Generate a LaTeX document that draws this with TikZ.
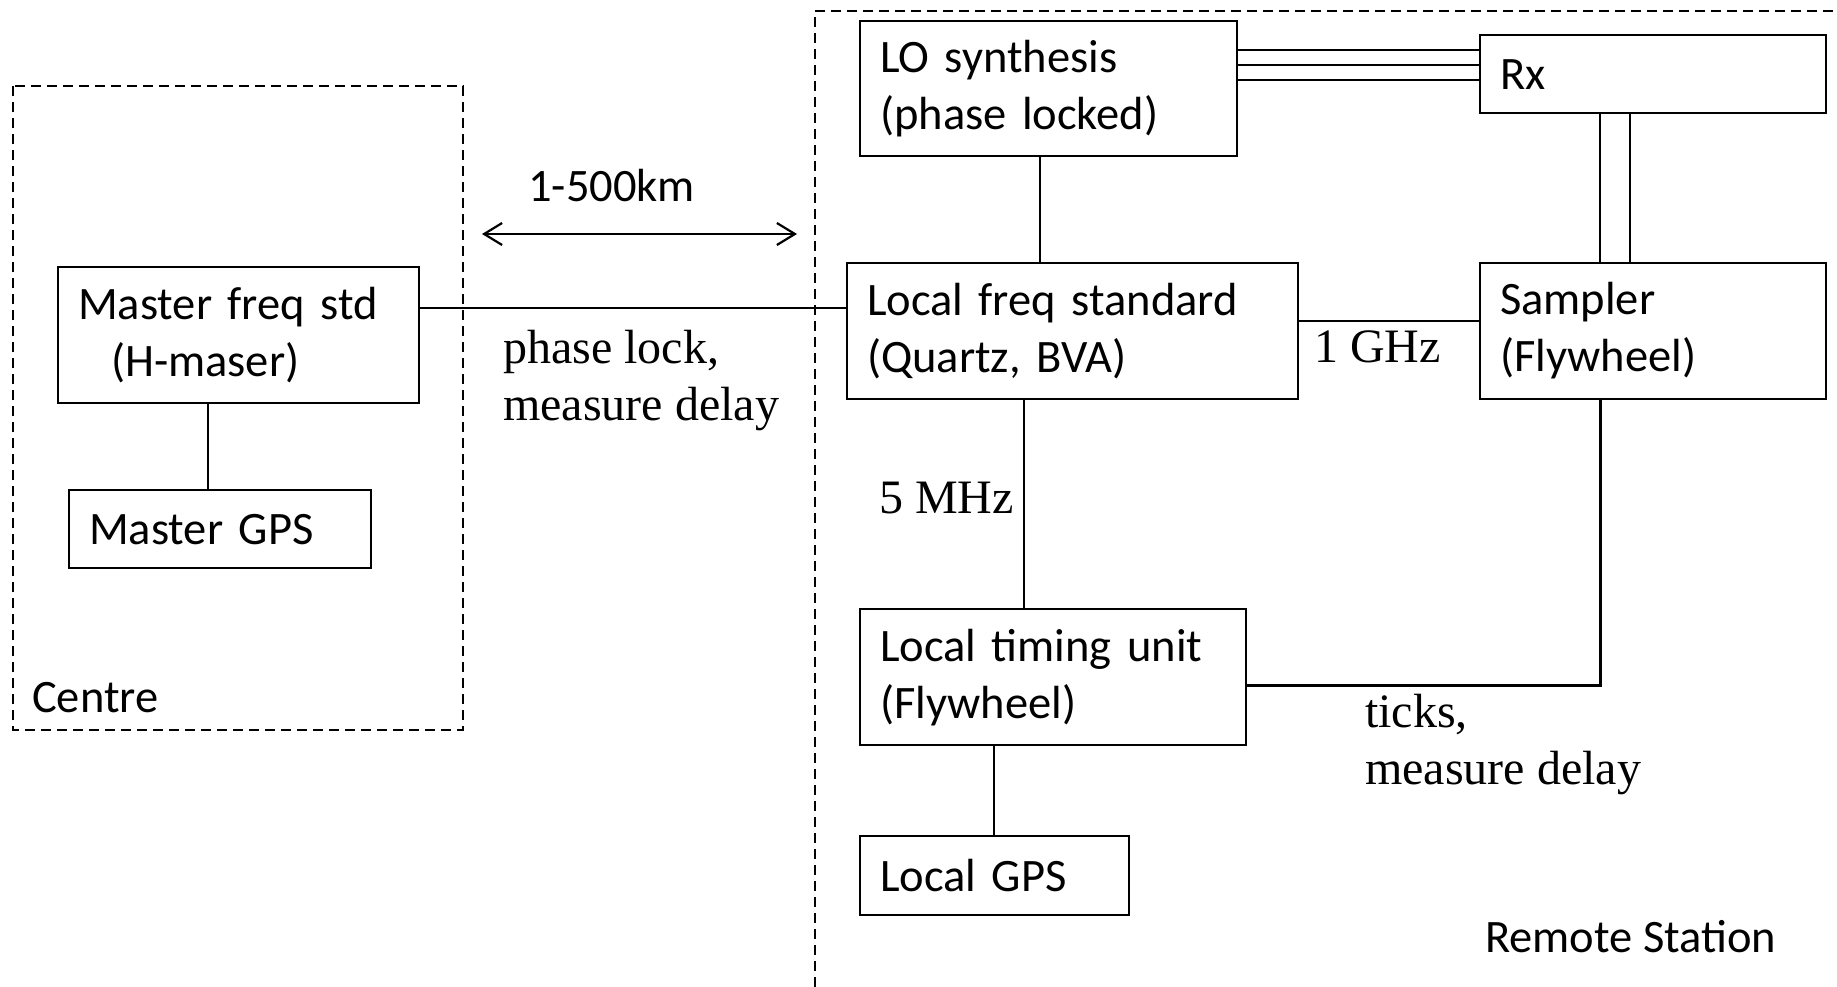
\documentclass[tikz,border=0pt]{standalone}
\usepackage{fontspec}
\setmainfont{Carlito}
\newfontfamily\timesface{Liberation Serif}
\usetikzlibrary{arrows.meta}
\begin{document}
\begin{tikzpicture}[x=1pt, y=-1pt,
  sansfont/.style={font=\fontsize{46.5}{57}\selectfont},
  seriffont/.style={font=\timesface\fontsize{48}{57}\selectfont},
  blk/.style={draw, line width=2.2pt, anchor=north west, align=left,
    inner xsep=20pt, inner ysep=0pt, sansfont},
  lbl/.style={anchor=base west, inner sep=0pt, align=left},
  link/.style={line width=2.6pt},
  region/.style={line width=2.2pt, dash pattern=on 10pt off 6pt}]
\useasboundingbox (0,0) rectangle (1837,987);

% site outlines
\draw[region] (13,86) rectangle (463,730);
\draw[region] (815,987) -- (815,11) -- (1837,11);

% centre equipment
\node[blk, text width=321pt, minimum height=136pt] (mfs) at (57,266)
  {Master freq std\\\hspace*{33pt}(H-maser)};
\node[blk, text width=262pt, minimum height=78pt] (mgps) at (68,489) {Master GPS};

% remote station equipment
\node[blk, text width=337pt, minimum height=135pt] (lo) at (859,20)
  {LO synthesis\\(phase locked)};
\node[blk, text width=306pt, minimum height=78pt] (rx) at (1479,34) {Rx};
\node[blk, text width=411pt, minimum height=136pt] (lfs) at (846,262)
  {Local freq standard\\(Quartz, BVA)};
\node[blk, text width=306pt, minimum height=136pt] (samp) at (1479,262)
  {Sampler\\(Flywheel)};
\node[blk, text width=346pt, minimum height=136pt] (ltu) at (859,608)
  {Local timing unit\\(Flywheel)};
\node[blk, text width=229pt, minimum height=79pt] (lgps) at (859,835) {Local GPS};

% connector positions
\coordinate (cA) at (208,0);
\coordinate (cB) at (1040,0);
\coordinate (cC) at (1024,0);
\coordinate (cD) at (994,0);
\coordinate (cE) at (1600,0);
\coordinate (cF) at (1630,0);
\coordinate (cG) at (0,308);
\coordinate (cH) at (0,321);
\coordinate (tk) at (1600,685);

% connectors
\draw[link] (mfs.south -| cA) -- (mgps.north -| cA);
\draw[link] (mfs.east |- cG) -- (lfs.west |- cG);
\draw[link] (lo.south -| cB) -- (lfs.north -| cB);
\draw[link] (lfs.south -| cC) -- (ltu.north -| cC);
\draw[link] (ltu.south -| cD) -- (lgps.north -| cD);
\draw[link] (lfs.east |- cH) -- (samp.west |- cH);
\foreach \yy in {50,65,80}
  \draw[link] (lo.east |- 0,\yy) -- (rx.west |- 0,\yy);
\draw[link] (rx.south -| cE) -- (samp.north -| cE);
\draw[link] (rx.south -| cF) -- (samp.north -| cF);
\draw[link, line width=3pt] (ltu.east |- tk) -- (tk) -- (samp.south -| tk);

% distance marker
\coordinate (dl) at (482,234);
\coordinate (dr) at (797,234);
\draw[line width=2.2pt, {Straight Barb[length=18pt,width=22pt]}-{Straight Barb[length=18pt,width=22pt]}] (dl) -- (dr);

% labels (base anchor sits on the last line of a two-line label)
\node[lbl, sansfont] (dist) at (528,202) {1-500km};
\node[lbl, seriffont] (plock) at (503,420) {phase lock,\\measure delay};
\node[lbl, seriffont] (ghz) at (1314,362) {1 GHz};
\node[lbl, seriffont] (mhz) at (879,513) {5 MHz};
\node[lbl, seriffont] (ticks) at (1365,784) {ticks,\\measure delay};
\node[lbl, sansfont] (centre) at (32,712) {Centre};
\node[lbl, sansfont] (remote) at (1485,952) {Remote Station};
\end{tikzpicture}
\end{document}
